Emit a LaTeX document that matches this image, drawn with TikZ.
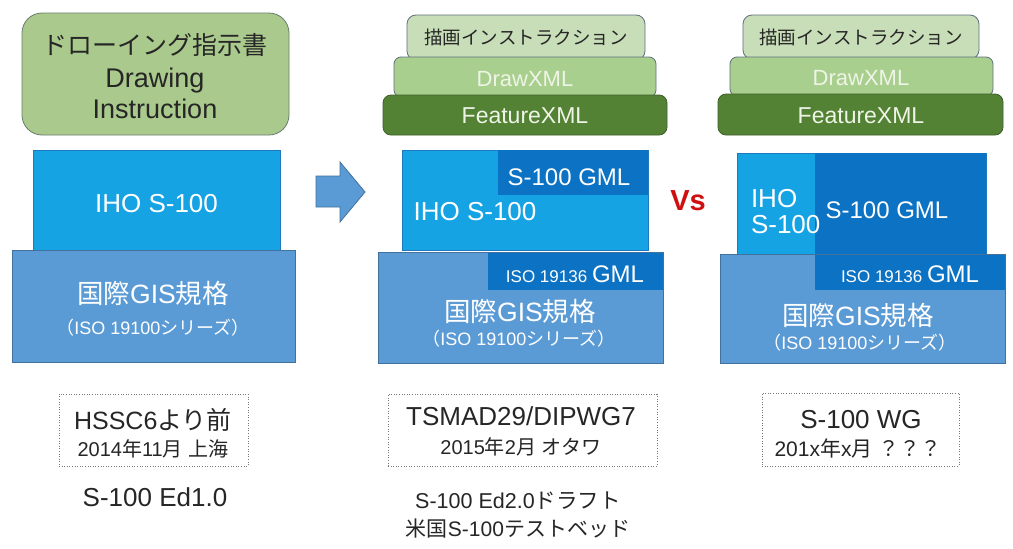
\documentclass[tikz,border=0pt]{standalone}
\usepackage{fontspec}
\setmainfont{Liberation Sans}
\newfontfamily\jpf{Noto Sans CJK JP}
\newcommand\jp[1]{{\jpf #1}}
\newcommand\myfs[1]{\fontsize{#1}{#1}\selectfont}
\definecolor{titleg}{RGB}{170,201,140}
\definecolor{titleb}{RGB}{105,125,110}
\definecolor{instg}{RGB}{200,222,184}
\definecolor{instb}{RGB}{95,112,125}
\definecolor{drawg}{RGB}{169,207,142}
\definecolor{featg}{RGB}{84,130,53}
\definecolor{featb}{RGB}{60,95,40}
\definecolor{ihoblue}{RGB}{22,163,228}
\definecolor{ihob}{RGB}{30,120,190}
\definecolor{gmlblue}{RGB}{12,114,195}
\definecolor{gisblue}{RGB}{91,155,213}
\definecolor{gisb}{RGB}{65,113,156}
\definecolor{lighttxt}{RGB}{238,244,230}
\definecolor{vsred}{RGB}{208,16,16}
\definecolor{dotgray}{RGB}{120,120,120}
\begin{document}
\begin{tikzpicture}[x=1pt,y=-1pt,
  box/.style={inner sep=0pt, outer sep=0pt, anchor=north west, line width=0.8pt},
  titlebox/.style={box, fill=titleg, draw=titleb, rounded corners=20pt},
  instbox/.style={box, fill=instg, draw=instb, rounded corners=9pt},
  drawbox/.style={box, fill=drawg, draw=instb, rounded corners=7pt},
  featbox/.style={box, fill=featg, draw=featb, rounded corners=8pt},
  ihobox/.style={box, fill=ihoblue, draw=ihob},
  gmlbox/.style={box, fill=gmlblue},
  gisbox/.style={box, fill=gisblue, draw=gisb},
  datebox/.style={box, draw=dotgray, line width=0.9pt, dash pattern=on 1pt off 1.6pt},
  lbl/.style={inner sep=0pt, outer sep=0pt, anchor=base},
  wlbl/.style={lbl, text=white},
  blbl/.style={lbl, text=black!85}
]
\fill[white] (0,0) rectangle (1013,549);
\useasboundingbox (0,0) rectangle (1013,549);

% ---------------- left column ----------------
\node[titlebox, minimum width=267pt, minimum height=122pt] (titleL) at (22,13) {};
\node[blbl] (titleLa) at (155,54) {\myfs{25}\jp{ドローイング指示書}};
\node[blbl] (titleLb) at (155,87) {\myfs{27}Drawing};
\node[blbl] (titleLc) at (155,118) {\myfs{27}Instruction};

\node[ihobox, minimum width=247pt, minimum height=100pt] (ihoL) at (33,150) {};
\node[wlbl] (ihoLt) at (156.5,212) {\myfs{26}IHO S-100};

\node[gisbox, minimum width=283pt, minimum height=112pt] (gisL) at (12,250) {};
\node[wlbl] (gisLa) at (153,303) {\myfs{26.5}\jp{国際}GIS\jp{規格}};
\node[wlbl] (gisLb) at (153,334) {\myfs{18}\jp{（}ISO 19100\jp{シリーズ）}};

\draw[fill=gisblue, draw=gisb, line width=0.8pt] (316,176) -- (340,176) -- (340,162) -- (365,192) -- (340,222) -- (340,207) -- (316,207) -- cycle;

\node[datebox, minimum width=189pt, minimum height=72pt] (dateL) at (59,394) {};
\node[blbl] (dateLa) at (153,429) {\myfs{25}HSSC6\jp{より前}};
\node[blbl] (dateLb) at (153,456) {\myfs{20}2014\jp{年}11\jp{月} \jp{上海}};
\node[blbl] (edL) at (155,506) {\myfs{26}S-100 Ed1.0};

% ---------------- middle column ----------------
\node[instbox, minimum width=238pt, minimum height=45pt] (instM) at (407,15) {};
\node[blbl] (instMt) at (526,44) {\myfs{18.5}\jp{描画インストラクション}};
\node[drawbox, minimum width=262pt, minimum height=40pt] (drawM) at (394,57) {};
\node[lbl, text=lighttxt] (drawMt) at (525,86) {\myfs{22}DrawXML};
\node[featbox, minimum width=284pt, minimum height=40pt] (featM) at (383,95) {};
\node[lbl, text=lighttxt] (featMt) at (525,123) {\myfs{23}FeatureXML};

\node[ihobox, minimum width=246pt, minimum height=100pt] (ihoM) at (402,150) {};
\node[gmlbox, minimum width=150pt, minimum height=45pt] (gmlM) at (498,150) {};
\node[wlbl] (gmlMt) at (569,185) {\myfs{24}S-100 GML};
\node[wlbl] (ihoMt) at (475,220) {\myfs{26}IHO S-100};

\node[gisbox, minimum width=285pt, minimum height=111pt] (gisM) at (378,252) {};
\node[gmlbox, minimum width=175pt, minimum height=37pt] (isoM) at (488,253) {};
\node[wlbl] (isoMt) at (575,282) {\myfs{17}ISO 19136 \myfs{24}GML};
\node[wlbl] (gisMa) at (520,321) {\myfs{26.5}\jp{国際}GIS\jp{規格}};
\node[wlbl] (gisMb) at (519,345) {\myfs{18}\jp{（}ISO 19100\jp{シリーズ）}};

\node[datebox, minimum width=269pt, minimum height=72pt] (dateM) at (388,394) {};
\node[blbl] (dateMa) at (521,425) {\myfs{26}TSMAD29/DIPWG7};
\node[blbl] (dateMb) at (521,454) {\myfs{20}2015\jp{年}2\jp{月} \jp{オタワ}};
\node[blbl] (edMa) at (518,508) {\myfs{21.5}S-100 Ed2.0\jp{ドラフト}};
\node[blbl] (edMb) at (518,536) {\myfs{21}\jp{米国}S-100\jp{テストベッド}};

% ---------------- Vs ----------------
\node[lbl, text=vsred] (vs) at (688,210) {\myfs{29}\bfseries Vs};

% ---------------- right column ----------------
\node[instbox, minimum width=236pt, minimum height=44pt] (instR) at (743,15) {};
\node[blbl] (instRt) at (861,44) {\myfs{18.5}\jp{描画インストラクション}};
\node[drawbox, minimum width=263pt, minimum height=39pt] (drawR) at (730,57) {};
\node[lbl, text=lighttxt] (drawRt) at (861,85) {\myfs{22}DrawXML};
\node[featbox, minimum width=285pt, minimum height=41pt] (featR) at (718,94) {};
\node[lbl, text=lighttxt] (featRt) at (861,123) {\myfs{23}FeatureXML};

\node[ihobox, minimum width=249pt, minimum height=101pt] (ihoR) at (737,153) {};
\node[gmlbox, minimum width=171pt, minimum height=101pt] (gmlR) at (815,153) {};
\node[wlbl] (gmlRt) at (887,218) {\myfs{24}S-100 GML};
\node[wlbl, anchor=base west] (ihoRa) at (751,207) {\myfs{26}IHO};
\node[wlbl, anchor=base west] (ihoRb) at (751,233) {\myfs{26}S-100};

\node[gisbox, minimum width=285pt, minimum height=109pt] (gisR) at (720,254) {};
\node[gmlbox, minimum width=190pt, minimum height=35pt] (isoR) at (815,255) {};
\node[wlbl] (isoRt) at (910,282) {\myfs{17}ISO 19136 \myfs{24}GML};
\node[wlbl] (gisRa) at (858,325) {\myfs{26.5}\jp{国際}GIS\jp{規格}};
\node[wlbl] (gisRb) at (860,349) {\myfs{18}\jp{（}ISO 19100\jp{シリーズ）}};

\node[datebox, minimum width=197pt, minimum height=73pt] (dateR) at (762,393) {};
\node[blbl] (dateRa) at (861,428) {\myfs{26}S-100 WG};
\node[blbl] (dateRb) at (858,456) {\myfs{21}201x\jp{年}x\jp{月} \jp{？？？}};
\end{tikzpicture}
\end{document}
